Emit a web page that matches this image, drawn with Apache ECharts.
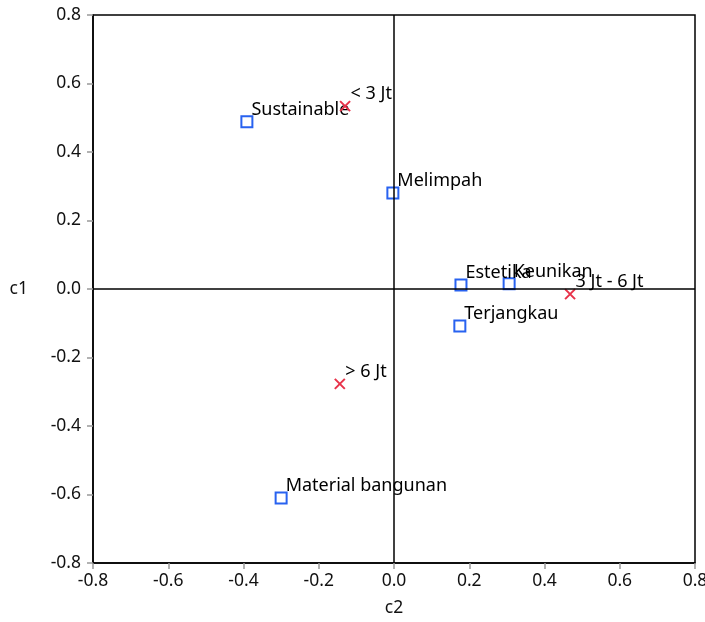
<!DOCTYPE html>
<html><head><meta charset="utf-8">
<script src="https://cdn.jsdelivr.net/npm/echarts@6/dist/echarts.min.js"></script>
<style>html,body{margin:0;padding:0;background:#fff}#c{width:705px;height:622px}</style>
</head><body><div id="c"></div>
<script>
const attrNames = ["Sustainable", "Melimpah", "Estetika", "Keunikan", "Terjangkau", "Material bangunan"];
const attrC2 = [-0.391, -0.003, 0.178, 0.306, 0.175, -0.300];
const attrC1 = [0.488, 0.280, 0.012, 0.015, -0.108, -0.610];
const incomeNames = ["< 3 Jt", "3 Jt - 6 Jt", "> 6 Jt"];
const incomeC2 = [-0.130, 0.468, -0.144];
const incomeC1 = [0.534, -0.015, -0.277];
const tickValues = [-0.8, -0.6, -0.4, -0.2, 0.0, 0.2, 0.4, 0.6, 0.8];

const FONT = "Noto Sans";
const crossPath = "path://M0,0L10,10M10,0L0,10";
const chart = echarts.init(document.getElementById('c'));
const lbl = {show: true, position: 'right', formatter: p => p.data.name, color: '#000', fontSize: 18, fontFamily: FONT, offset: [-7, -12]};
const axisCommon = {
  min: -0.8, max: 0.8, interval: 0.2,
  axisLine: {show: true, onZero: false, lineStyle: {color: '#000', width: 1.5}},
  axisTick: {show: true, length: 6, lineStyle: {color: '#999', width: 1.5}},
  axisLabel: {color: '#111', fontSize: 17.5, fontFamily: FONT, formatter: v => v.toFixed(1)},
  splitLine: {show: false}
};
chart.setOption({
  animation: false,
  grid: {left: 93, right: 10, top: 15, bottom: 59, show: true, borderColor: '#000', borderWidth: 1.5, outerBoundsMode: 'none', containLabel: false},
  xAxis: Object.assign({}, axisCommon, {type: 'value', name: 'c2', nameLocation: 'middle', nameGap: 36,
    nameTextStyle: {color: '#111', fontSize: 17.5, fontFamily: FONT},
    axisLabel: Object.assign({}, axisCommon.axisLabel, {margin: 9})}),
  yAxis: Object.assign({}, axisCommon, {type: 'value', name: 'c1', nameLocation: 'middle', nameGap: 65, nameRotate: 0,
    nameTextStyle: {color: '#111', fontSize: 17.5, fontFamily: FONT},
    axisLabel: Object.assign({}, axisCommon.axisLabel, {margin: 12})}),
  series: [
    {type: 'scatter', symbol: 'rect', symbolSize: 11,
      itemStyle: {color: '#fff', borderColor: '#2862f0', borderWidth: 2, opacity: 1},
      label: lbl,
      data: attrNames.map((n, i) => ({name: n, value: [attrC2[i], attrC1[i]]})),
      markLine: {silent: true, symbol: 'none', label: {show: false},
        lineStyle: {color: '#000', width: 1.5, type: 'solid'},
        data: [{xAxis: 0}, {yAxis: 0}]},
      z: 3},
    {type: 'scatter', symbol: crossPath, symbolSize: 10,
      itemStyle: {color: 'none', borderColor: '#e8334a', borderWidth: 2, opacity: 1},
      label: lbl,
      data: incomeNames.map((n, i) => ({name: n, value: [incomeC2[i], incomeC1[i]]})),
      z: 4}
  ]
});
</script></body></html>
